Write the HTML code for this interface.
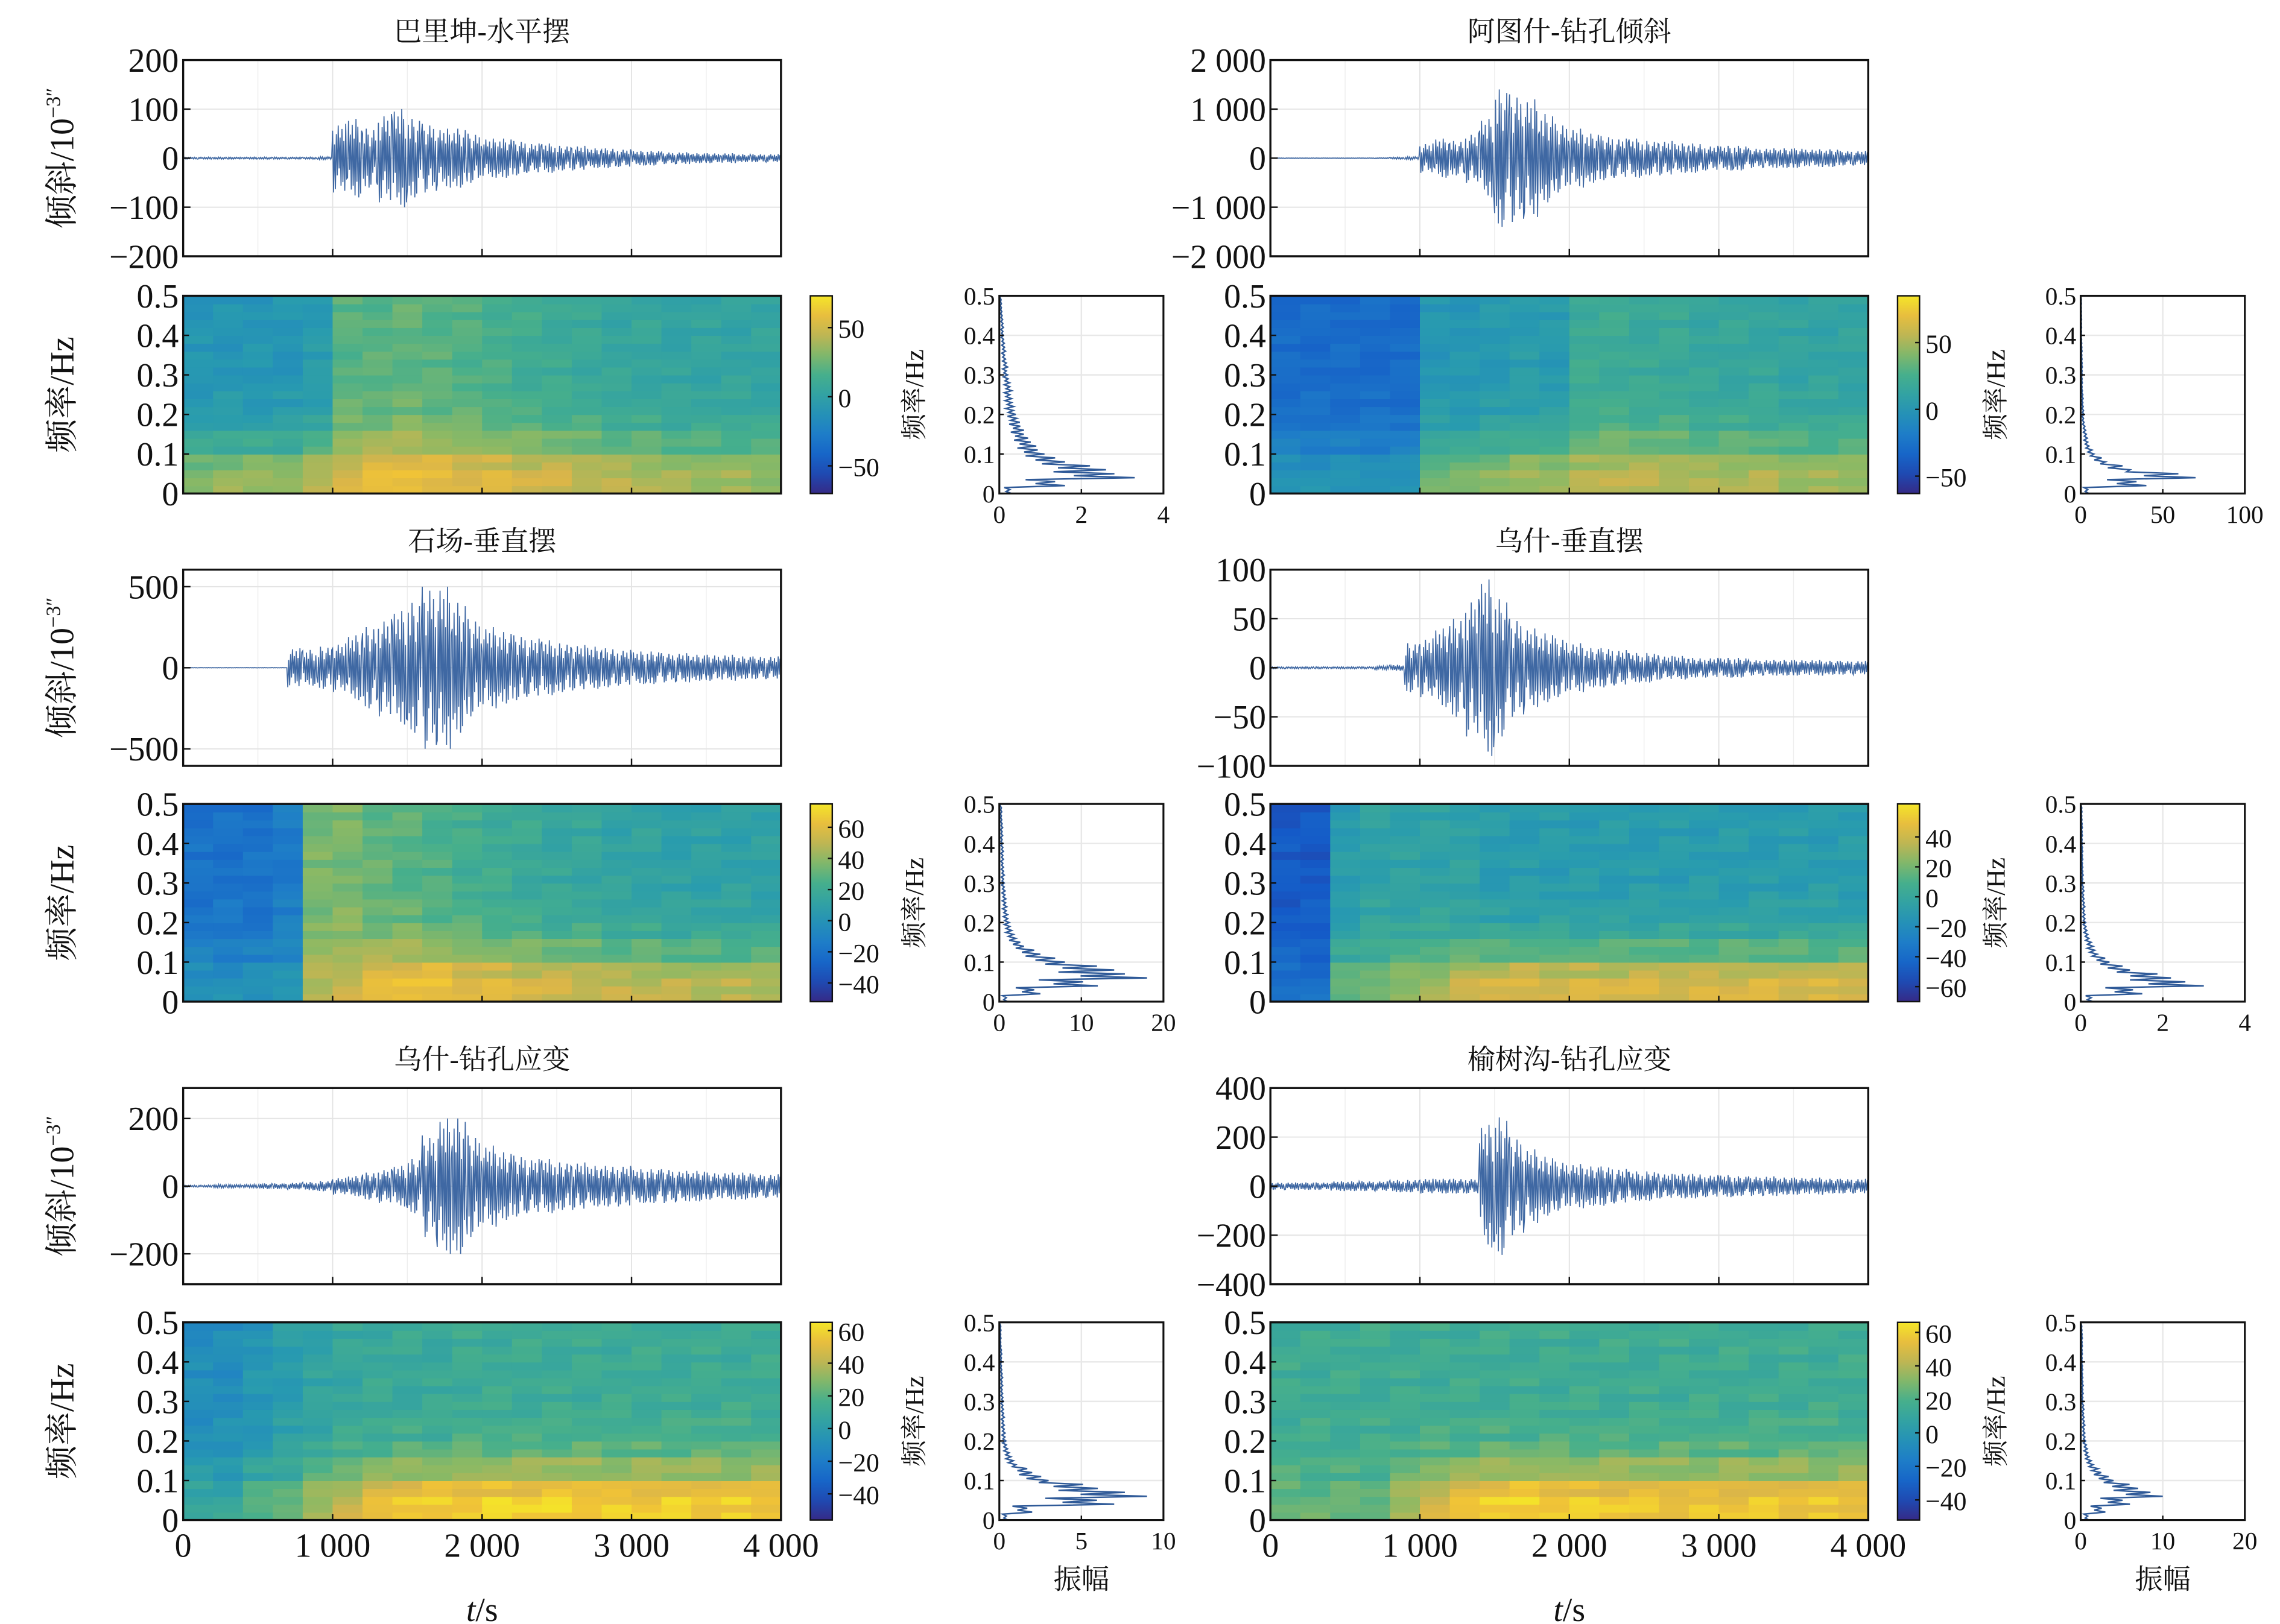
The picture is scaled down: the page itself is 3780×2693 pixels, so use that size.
<!DOCTYPE html>
<html><head><meta charset="utf-8">
<style>
html,body{margin:0;padding:0;background:#fff;}
svg{display:block;}
text{font-family:"Liberation Serif","Noto Serif CJK SC",serif;fill:#111;}
</style></head>
<body>
<svg id="fig" xmlns="http://www.w3.org/2000/svg" width="3780" height="2693" viewBox="0 0 1556 1109" preserveAspectRatio="none"></svg>
<script>
// ---------- data ----------
const timeTicks = [0,1000,2000,3000,4000];
const timeTickLabels = ["0","1 000","2 000","3 000","4 000"];
const freqTicks = [0,0.1,0.2,0.3,0.4,0.5];
const freqTickLabels = ["0","0.1","0.2","0.3","0.4","0.5"];

const titles = ["巴里坤-水平摆","阿图什-钻孔倾斜","石场-垂直摆","乌什-垂直摆","乌什-钻孔应变","榆树沟-钻孔应变"];

const waveA=[2,2,2,2,2,2,2,2,2,3,70,80,60,90,100,80,70,60,60,50,40,40,35,30,30,25,25,20,20,18,15,15,12,12,10,10,10,8,8,8];
const waveB=[5,5,5,5,5,5,5,10,20,30,300,400,350,500,800,1400,1300,1200,900,700,600,500,450,400,400,350,350,300,300,250,250,250,200,200,200,200,180,180,150,150];
const waveC=[1,1,1,1,1,1,1,120,110,130,150,200,250,300,350,400,500,500,400,300,250,220,200,180,170,150,140,130,120,110,100,100,90,90,80,80,80,70,70,70];
const waveD=[1,1,1,1,1,1,1,2,3,25,30,40,50,70,90,70,50,40,35,30,25,20,20,18,15,15,12,12,10,10,10,10,8,8,8,8,8,7,7,7];
const waveE=[3,3,5,5,5,8,8,10,12,15,25,30,40,50,60,80,150,200,200,150,120,100,90,80,80,70,70,60,60,60,50,50,50,45,45,40,40,40,35,35];
const waveF=[15,15,15,15,20,20,20,20,25,25,30,30,30,30,250,280,200,150,120,100,90,80,80,70,60,60,50,50,50,45,45,40,40,40,35,35,35,30,30,30];

const waveYTicksA=[200,100,0,-100,-200], waveYLabelsA=["200","100","0","−100","−200"];
const waveYTicksB=[2000,1000,0,-1000,-2000], waveYLabelsB=["2 000","1 000","0","−1 000","−2 000"];
const waveYTicksC=[500,0,-500], waveYLabelsC=["500","0","−500"];
const waveYTicksD=[100,50,0,-50,-100], waveYLabelsD=["100","50","0","−50","−100"];
const waveYTicksE=[200,0,-200], waveYLabelsE=["200","0","−200"];
const waveYTicksF=[400,200,0,-200,-400], waveYLabelsF=["400","200","0","−200","−400"];

const specBgA=[-10,-10,-10,-10,-5,20,20,22,20,18,15,12,10,8,5,5,3,3,3,3];
const specLowA=[40,45,45,45,48,32,38,38,36,36,38,38,38,38,38,36,34,34,34,32];
const specBgB=[-30,-30,-30,-30,-30,0,0,2,5,3,20,20,18,18,15,15,15,12,12,12];
const specLowB=[28,28,28,28,28,38,38,42,42,46,32,36,36,36,36,36,36,36,36,36];
const specBgC=[-20,-20,-20,-15,35,35,30,28,25,22,20,18,15,15,12,12,10,10,10,10];
const specLowC=[18,18,18,18,12,18,30,36,38,38,38,38,38,38,38,38,38,38,38,38];
const specBgD=[-50,-50,-10,-5,-5,-5,-5,-10,-10,-10,-10,-10,-10,-10,-10,-10,-10,-10,-10,-10];
const specLowD=[12,12,25,25,30,36,42,52,52,52,52,52,52,52,52,52,52,52,52,52];
const specBgE=[-10,-10,-5,0,5,8,10,10,10,12,12,12,12,12,12,12,12,12,12,12];
const specLowE=[18,18,24,24,30,36,42,48,48,48,48,48,48,48,46,46,46,46,46,46];
const specBgF=[15,15,15,15,15,15,15,15,15,15,15,15,15,15,15,15,15,15,15,15];
const specLowF=[10,10,10,10,22,34,40,46,46,46,44,44,42,42,42,42,42,42,42,42];

const cbTicksA=[50,0,-50], cbTicksB=[50,0,-50], cbTicksC=[60,40,20,0,-20,-40];
const cbTicksD=[40,20,0,-20,-40,-60], cbTicksE=[60,40,20,0,-20,-40], cbTicksF=[60,40,20,0,-20,-40];

const ampA=[0.3,1.6,3.3,2.6,1.6,1.1,0.9,0.7,0.6,0.5,0.4,0.35,0.3,0.3,0.25,0.2,0.2,0.15,0.15,0.12,0.1,0.1,0.08,0.06,0.05];
const ampB=[5,40,70,30,15,8,5,4,3,2,2,1.5,1.5,1,1,1,1,0.8,0.8,0.6,0.5,0.5,0.5,0.4,0.4];
const ampC=[1,5,12,18,14,8,5,3,2,1.5,1.2,1,0.9,0.8,0.7,0.6,0.6,0.5,0.5,0.5,0.4,0.4,0.4,0.3,0.3];
const ampD=[0.3,1.5,3,2.2,1.2,0.7,0.4,0.3,0.2,0.15,0.12,0.1,0.1,0.08,0.08,0.06,0.06,0.05,0.05,0.05,0.04,0.04,0.04,0.03,0.03];
const ampE=[0.5,2,7,9,6,3,2,1,0.7,0.5,0.4,0.35,0.3,0.3,0.25,0.25,0.2,0.2,0.2,0.15,0.15,0.15,0.1,0.1,0.1];
const ampF=[1,3,6,10,7,4,2.5,1.5,1,0.8,0.6,0.5,0.5,0.4,0.4,0.3,0.3,0.3,0.25,0.25,0.2,0.2,0.2,0.2,0.15];
const ampTicksA=[0,2,4], ampTicksB=[0,50,100], ampTicksC=[0,10,20], ampTicksD=[0,2,4], ampTicksE=[0,5,10], ampTicksF=[0,10,20];

// ---------- layout ----------
const panels=[
 {title:titles[0],col:0,row:0,wave:waveA,wy:200,wt:waveYTicksA,wl:waveYLabelsA,bg:specBgA,low:specLowA,cmin:-70,cmax:73,cbt:cbTicksA,amp:ampA,at:ampTicksA},
 {title:titles[1],col:1,row:0,wave:waveB,wy:2000,wt:waveYTicksB,wl:waveYLabelsB,bg:specBgB,low:specLowB,cmin:-63,cmax:85,cbt:cbTicksB,amp:ampB,at:ampTicksB},
 {title:titles[2],col:0,row:1,wave:waveC,wy:605,wt:waveYTicksC,wl:waveYLabelsC,bg:specBgC,low:specLowC,cmin:-52,cmax:75,cbt:cbTicksC,amp:ampC,at:ampTicksC},
 {title:titles[3],col:1,row:1,wave:waveD,wy:100,wt:waveYTicksD,wl:waveYLabelsD,bg:specBgD,low:specLowD,cmin:-70,cmax:62,cbt:cbTicksD,amp:ampD,at:ampTicksD},
 {title:titles[4],col:0,row:2,wave:waveE,wy:290,wt:waveYTicksE,wl:waveYLabelsE,bg:specBgE,low:specLowE,cmin:-56,cmax:65,cbt:cbTicksE,amp:ampE,at:ampTicksE},
 {title:titles[5],col:1,row:2,wave:waveF,wy:400,wt:waveYTicksF,wl:waveYLabelsF,bg:specBgF,low:specLowF,cmin:-52,cmax:66,cbt:cbTicksF,amp:ampF,at:ampTicksF}
];
const colX=[125,867], cbX=[553,1295], spX=[682,1420];
const waveYs=[41,389,743], specYs=[202,549,903];
const W=408, WH=134, SH=135, CBW=15, SPW=112;
const freqProfile=[1,0.85,0.45,0.2,0.08,0.02,0,0,0,0];
const wig=[1,-0.6,0.8,-1,0.4,-0.9,0.7,-0.5,0.95,-0.3,0.6,-0.8,0.85,-0.7,0.5,-0.95];
const stripe=[0,4,-3,2,-4,3,-2,5,-1,-3,2,-5,4,0,-2,3,-4,1,5,-3,2,-1,-4,3,0];

const NS="http://www.w3.org/2000/svg";
const svg=document.getElementById('fig');
function el(tag,attrs,parent){const e=document.createElementNS(NS,tag);for(const k in attrs)e.setAttribute(k,attrs[k]);(parent||svg).appendChild(e);return e;}
function txt(s,x,y,size,anchor,parent,extra){const t=el('text',Object.assign({x:x,y:y,'font-size':size,'text-anchor':anchor||'middle'},extra||{}),parent);t.textContent=s;return t;}

const stops=[[0,[53,42,135]],[0.15,[20,90,200]],[0.3,[30,125,200]],[0.45,[40,155,175]],[0.6,[70,175,140]],[0.72,[140,185,100]],[0.84,[215,180,75]],[0.93,[240,195,55]],[1,[245,230,40]]];
function cmap(v){v=Math.max(0,Math.min(1,v));for(let i=1;i<stops.length;i++){if(v<=stops[i][0]){const a=stops[i-1],b=stops[i];const f=(v-a[0])/(b[0]-a[0]);const c=a[1].map((x,j)=>Math.round(x+(b[1][j]-x)*f));return `rgb(${c[0]},${c[1]},${c[2]})`;}}return 'rgb(245,230,40)';}

let defs=el('defs',{});
panels.forEach((p,pi)=>{
 const g=el('g',{});
 
 
 const X=colX[p.col], wy0=waveYs[p.row], sy0=specYs[p.row];
 const tx=t=>X+t/4000*W;
 const tt=txt(p.title,X+W/2,wy0-13,19,'middle',g);
 
 
 // ---- waveform ----
 const wg=el('g',{},g);
 
 
 const wyS=v=>wy0+WH/2-v/p.wy*(WH/2);
 timeTicks.forEach(t=>{if(t>0&&t<4000){const l=el('line',{x1:tx(t),x2:tx(t),y1:wy0,y2:wy0+WH,stroke:'#e4e4e4','stroke-width':0.8},wg);}});
 for(let k=0;k<=8;k++){const t=k*500;if(t%1000!==0){el('line',{x1:tx(t),x2:tx(t),y1:wy0,y2:wy0+WH,stroke:'#eeeeee','stroke-width':0.6},wg);}}
 p.wt.forEach(v=>{if(Math.abs(v)<p.wy*0.99)el('line',{x1:X,x2:X+W,y1:wyS(v),y2:wyS(v),stroke:'#e4e4e4','stroke-width':0.8},wg);});
 let pts=[];const n=wig.length;
 p.wave.forEach((a,i)=>{for(let k=0;k<n;k++){const t=(i+k/n)*100;pts.push(tx(t).toFixed(2)+','+wyS(a*wig[(k+i*5)%n]).toFixed(2));}});
 const pl=el('polyline',{points:pts.join(' '),fill:'none',stroke:'#3f68a3','stroke-width':0.7},wg);
 
 
 el('rect',{x:X,y:wy0,width:W,height:WH,fill:'none',stroke:'#111','stroke-width':1.4},wg);
 p.wt.forEach((v,i)=>{const y=wyS(v);el('line',{x1:X,x2:X+5,y1:y,y2:y,stroke:'#111','stroke-width':1},wg);const l=txt(p.wl[i],X-3,y+8,23,'end',wg);});
 timeTicks.forEach(t=>{el('line',{x1:tx(t),x2:tx(t),y1:wy0+WH,y2:wy0+WH-5,stroke:'#111','stroke-width':1},wg);});
 // ---- spectrogram ----
 const sg=el('g',{},g);
 
 
 const nt=p.bg.length, nf=25, cw=W/nt, ch=SH/nf;
 for(let i=0;i<nt;i++){for(let j=0;j<nf;j++){
   const fb=Math.floor(j/2.5);
   let v=p.bg[i]+p.low[i]*freqProfile[fb]+stripe[(j*3+i*7)%stripe.length];
   const c=el('rect',{x:(X+i*cw).toFixed(2),y:(sy0+SH-(j+1)*ch).toFixed(2),width:(cw+0.4).toFixed(2),height:(ch+0.4).toFixed(2),fill:cmap((v-p.cmin)/(p.cmax-p.cmin))},sg);
   
   
 }}
 el('rect',{x:X,y:sy0,width:W,height:SH,fill:'none',stroke:'#111','stroke-width':1.4},sg);
 freqTicks.forEach((f,i)=>{const y=sy0+SH-f/0.5*SH;el('line',{x1:X,x2:X+4,y1:y,y2:y,stroke:'#111'},sg);const l=txt(freqTickLabels[i],X-3,y+8,23,'end',sg);});
 timeTicks.forEach((t,i)=>{el('line',{x1:tx(t),x2:tx(t),y1:sy0+SH,y2:sy0+SH-4,stroke:'#111'},sg);
   if(p.row===2){const l=txt(timeTickLabels[i],tx(t),sy0+SH+25,23,'middle',sg);}});
 // ---- colorbar ----
 const cg=el('g',{},g);
 
 
 const gid='grad'+pi;
 const lg=el('linearGradient',{id:gid,x1:0,y1:1,x2:0,y2:0},defs);
 for(let k=0;k<=10;k++)el('stop',{offset:k/10,'stop-color':cmap(k/10)},lg);
 el('rect',{x:cbX[p.col],y:sy0,width:CBW,height:SH,fill:`url(#${gid})`,stroke:'#111','stroke-width':1},cg);
 p.cbt.forEach(v=>{const y=sy0+SH-(v-p.cmin)/(p.cmax-p.cmin)*SH;el('line',{x1:cbX[p.col]+CBW-3,x2:cbX[p.col]+CBW,y1:y,y2:y,stroke:'#111'},cg);const l=txt(v<0?'−'+(-v):String(v),cbX[p.col]+CBW+4,y+7,18,'start',cg);});
 // ---- amplitude spectrum ----
 const ag=el('g',{},g);
 
 
 const SX=spX[p.col], amax=p.at[p.at.length-1];
 const ax=v=>SX+v/amax*SPW, ay=f=>sy0+SH-f/0.5*SH;
 p.at.forEach(v=>{el('line',{x1:ax(v),x2:ax(v),y1:sy0,y2:sy0+SH,stroke:'#e8e8e8'},ag);});
 freqTicks.forEach(f=>{el('line',{x1:SX,x2:SX+SPW,y1:ay(f),y2:ay(f),stroke:'#e8e8e8'},ag);});
 let ap=[SX+','+ay(0)];const df=0.5/p.amp.length;
 p.amp.forEach((a,i)=>{for(let k=0;k<4;k++){const f=(i+k/4)*df;const fac=[1,0.55,0.85,0.4][k];ap.push(ax(a*fac).toFixed(2)+','+ay(f).toFixed(2));}});
 ap.push(SX+','+ay(0.5));
 const sp=el('polyline',{points:ap.join(' '),fill:'none',stroke:'#2f5a98','stroke-width':1},ag);
 
 
 el('rect',{x:SX,y:sy0,width:SPW,height:SH,fill:'none',stroke:'#111','stroke-width':1.3},ag);
 freqTicks.forEach((f,i)=>{el('line',{x1:SX,x2:SX+3,y1:ay(f),y2:ay(f),stroke:'#111'},ag);const l=txt(freqTickLabels[i],SX-3,ay(f)+6,17,'end',ag);});
 p.at.forEach(v=>{el('line',{x1:ax(v),x2:ax(v),y1:sy0+SH,y2:sy0+SH-3,stroke:'#111'},ag);const l=txt(String(v),ax(v),sy0+SH+20,17,'middle',ag);});
 const yl=txt('频率/Hz',0,0,18,'middle',ag,{transform:`translate(${SX-52},${sy0+SH/2}) rotate(-90)`});
 
 
 if(p.row===2){const xl=txt('振幅',SX+SPW/2,sy0+SH+47,19,'middle',ag);}
 if(p.col===0){
  const a=txt('倾斜/10',0,0,23,'middle',g,{transform:`translate(50,${wy0+WH/2}) rotate(-90)`});
  
  
  const ts=el('tspan',{'font-size':14,dy:-9},a);ts.textContent='−3″';
  const b=txt('频率/Hz',0,0,23,'middle',g,{transform:`translate(50,${sy0+SH/2}) rotate(-90)`});
  
  
 }
 if(p.row===2){
  const t=el('text',{x:X+W/2,y:1107,'font-size':23,'text-anchor':'middle'},g);
  
  
  const i1=el('tspan',{'font-style':'italic'},t);i1.textContent='t';
  const i2=el('tspan',{},t);i2.textContent='/s';
 }
});
</script>
</body></html>
